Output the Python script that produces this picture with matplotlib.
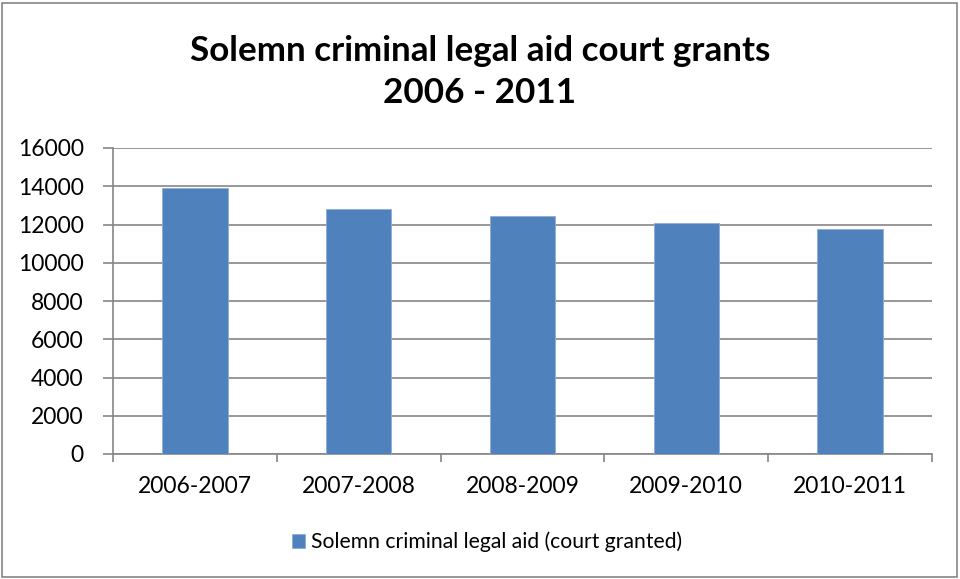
import matplotlib
matplotlib.use("Agg")
import matplotlib.pyplot as plt
from matplotlib.patches import Rectangle
import numpy as np

categories = ["2006-2007", "2007-2008", "2008-2009", "2009-2010", "2010-2011"]
grants = [13910, 12815, 12450, 12100, 11770]
yticks = [0, 2000, 4000, 6000, 8000, 10000, 12000, 14000, 16000]
series_name = "Solemn criminal legal aid (court granted)"
title = "Solemn criminal legal aid court grants\n2006 - 2011"

plt.rcParams["font.family"] = ["Lato", "DejaVu Sans"]

W, H = 960, 579
fig = plt.figure(figsize=(W / 100, H / 100), dpi=100)
ax = fig.add_axes([113 / W, 1 - 454 / H, (932 - 113) / W, (454 - 148) / H])

x = np.arange(len(categories))
bars = ax.bar(x, grants, width=0.40, color="#4F81BD", edgecolor="#8EACD8",
              linewidth=0.6, zorder=3, label=series_name)

ax.set_xlim(-0.5, len(categories) - 0.5)
ax.set_ylim(0, 16000)
ax.set_yticks(yticks)
ax.set_yticklabels([str(v) for v in yticks], fontsize=16.5)
ax.yaxis.grid(True, color="#868686", linewidth=1.2, zorder=0)
ax.set_axisbelow(True)

# category labels centred under bars, tick marks on the boundaries
ax.set_xticks(x)
ax.set_xticklabels(categories, fontsize=16.5)
ax.tick_params(axis="x", length=0, pad=16)
ax.set_xticks(np.arange(-0.5, len(categories)), minor=True)
ax.tick_params(axis="x", which="minor", length=6, width=1.2, color="#868686", direction="out")
ax.tick_params(axis="y", length=7, width=1.2, color="#868686", direction="out", pad=14)

for side in ["top", "right"]:
    ax.spines[side].set_visible(False)
for side in ["left", "bottom"]:
    ax.spines[side].set_color("#868686")
    ax.spines[side].set_linewidth(1.2)

fig.text(0.5, 1 - 72 / H, title, ha="center", va="center", fontsize=25.2,
         fontweight="bold", linespacing=1.35)

fig.legend(handles=[bars], labels=[series_name], loc="center",
           bbox_to_anchor=(487 / W, 1 - 542 / H), frameon=False, fontsize=15.2,
           handlelength=0.6, handleheight=0.6, handletextpad=0.3)

# outer chart border
fig.patches.append(Rectangle((2 / W, 2 / H), 1 - 5 / W, 1 - 5 / H,
                             transform=fig.transFigure, fill=False,
                             edgecolor="#868686", linewidth=1.2))

fig.savefig("out.png", dpi=100)
